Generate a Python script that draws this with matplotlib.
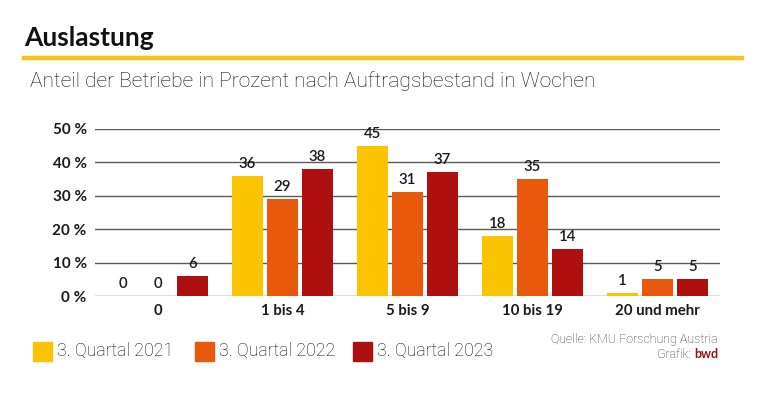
import matplotlib.pyplot as plt
import numpy as np
from matplotlib.patches import Rectangle
from matplotlib.lines import Line2D

categories = ["0", "1 bis 4", "5 bis 9", "10 bis 19", "20 und mehr"]
series_names = ["3. Quartal 2021", "3. Quartal 2022", "3. Quartal 2023"]
q2021 = [0, 36, 45, 18, 1]
q2022 = [0, 29, 31, 35, 5]
q2023 = [6, 38, 37, 14, 5]
yticks = [0, 10, 20, 30, 40, 50]
colors = ["#FBC400", "#E8590C", "#AE1010"]

plt.rcParams['font.family'] = ['Lato', 'DejaVu Sans']
LIGHT = ['Roboto', 'DejaVu Sans']

fig = plt.figure(figsize=(7.68, 3.99), dpi=100)
W, H = 768, 399

def fx(px):
    return px / W

def fy(py):
    return 1 - py / H

ax = fig.add_axes([fx(95), fy(296), fx(720) - fx(95), fy(129) - fy(296)])
x = np.arange(len(categories))
width = 0.245
offset = 0.28
for i, (vals, col) in enumerate(zip([q2021, q2022, q2023], colors)):
    pos = x + (i - 1) * offset
    ax.bar(pos, vals, width=width, color=col, zorder=3)
    for p, v in zip(pos, vals):
        ax.text(p, v + 1.5, str(v), ha='center', va='bottom', fontsize=10.8,
                fontweight='semibold', color='#1a1a1a', clip_on=False)

ax.set_xlim(-0.5, 4.5)
ax.set_ylim(0, 50)
ax.set_yticks(yticks)
ax.set_yticklabels([f"{t} %" for t in yticks], fontsize=11, fontweight='bold', color='#1a1a1a')
ax.yaxis.grid(True, color='#5a5a5a', linewidth=1.0, zorder=0)
ax.set_xticks(x)
ax.set_xticklabels(categories, fontsize=10.8, fontweight='bold', color='#1a1a1a')
ax.tick_params(axis='both', length=0)
ax.tick_params(axis='y', pad=6)
ax.tick_params(axis='x', pad=6)
for s in ax.spines.values():
    s.set_visible(False)
ax.set_axisbelow(True)

# Title and rule
fig.text(fx(24), fy(38), "Auslastung", fontsize=19, fontweight='bold', color='#111111',
         va='center', ha='left')
fig.add_artist(Line2D([fx(24), fx(742)], [fy(58), fy(58)], color='#F6C21C', linewidth=3.2))
fig.text(fx(30), fy(81), "Anteil der Betriebe in Prozent nach Auftragsbestand in Wochen",
         fontsize=15.1, fontweight='light', family=LIGHT, color='#111111', va='center', ha='left')

# Legend
leg_x = [33, 195, 353]
for lx, name, col in zip(leg_x, series_names, colors):
    fig.add_artist(Rectangle((fx(lx), fy(361)), fx(19), fy(342) - fy(361), color=col,
                             transform=fig.transFigure))
    fig.text(fx(lx + 24), fy(351), name, fontsize=12.8, fontweight='light', family=LIGHT,
             color='#111111', va='center', ha='left')

# Source
fig.text(fx(718), fy(339), "Quelle: KMU Forschung Austria", fontsize=9.0, fontweight='light',
         family=LIGHT, color='#333333', ha='right', va='center')
fig.text(fx(718), fy(354), "bwd", fontsize=9.0, fontweight='bold', color='#A01010',
         ha='right', va='center')
fig.text(fx(691), fy(354), "Grafik:", fontsize=9.0, fontweight='light', family=LIGHT,
         color='#333333', ha='right', va='center')

fig.savefig("out.png", dpi=100, facecolor='white')
